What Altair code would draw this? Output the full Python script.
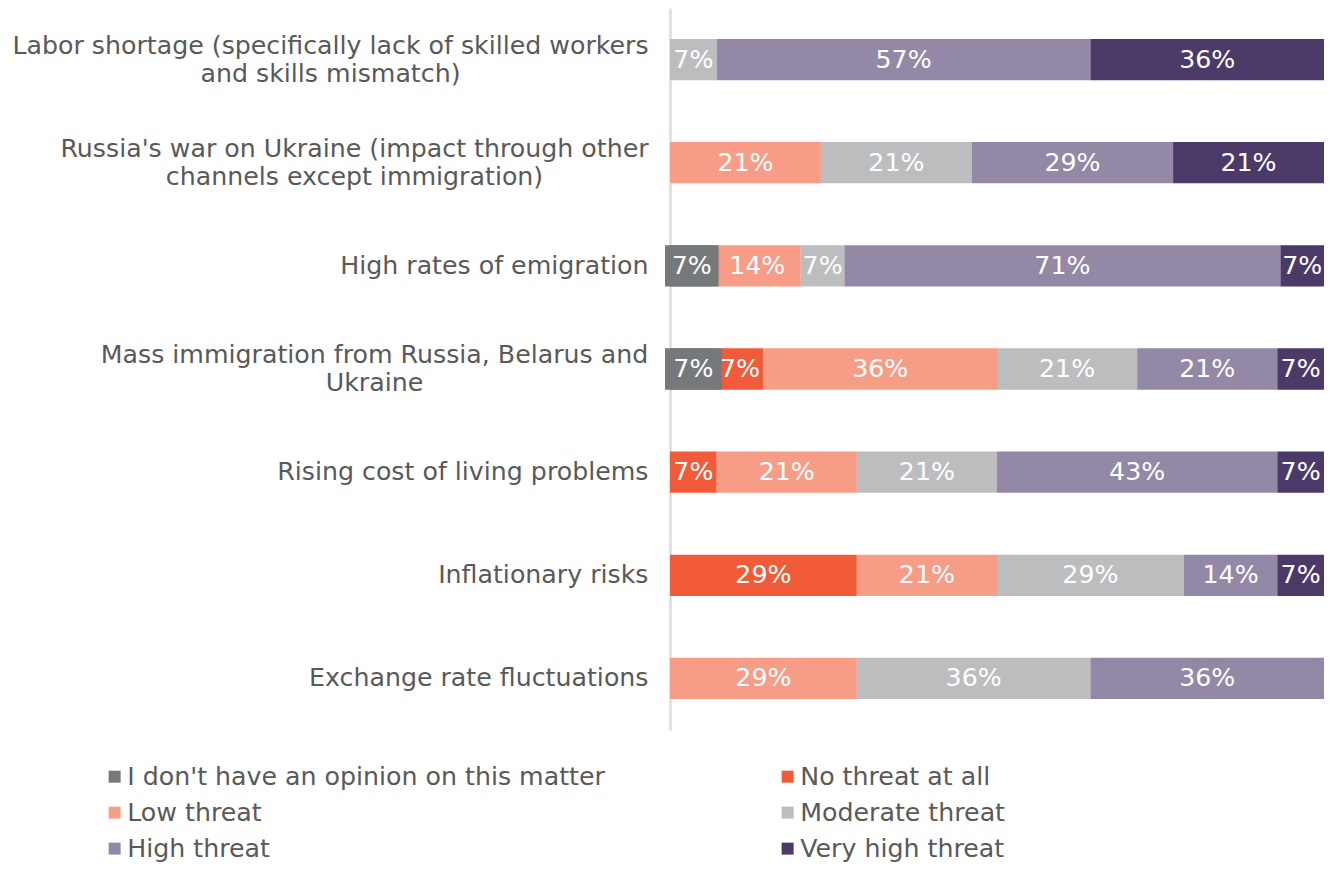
import altair as alt
import pandas as pd

categories = [
    "Labor shortage (specifically lack of skilled workers\nand skills mismatch)",
    "Russia's war on Ukraine (impact through other\nchannels except immigration)",
    "High rates of emigration",
    "Mass immigration from Russia, Belarus and\nUkraine",
    "Rising cost of living problems",
    "Inflationary risks",
    "Exchange rate fluctuations",
]

series = [
    "I don't have an opinion on this matter",
    "No threat at all",
    "Low threat",
    "Moderate threat",
    "High threat",
    "Very high threat",
]
colors = ["#76797B", "#F15B3A", "#F79D87", "#BCBDBF", "#9388A6", "#4B3A68"]

# respondent counts per category (top to bottom) for each answer
no_opinion = [0, 0, 1, 1, 0, 0, 0]
no_threat = [0, 0, 0, 1, 1, 4, 0]
low_threat = [0, 3, 2, 5, 3, 3, 4]
moderate_threat = [1, 3, 1, 3, 3, 4, 5]
high_threat = [8, 4, 10, 3, 6, 2, 5]
very_high_threat = [5, 3, 1, 1, 1, 1, 0]

# printed percentage labels
no_opinion_pct = [0, 0, 7, 7, 0, 0, 0]
no_threat_pct = [0, 0, 0, 7, 7, 29, 0]
low_threat_pct = [0, 21, 14, 36, 21, 21, 29]
moderate_threat_pct = [7, 21, 7, 21, 21, 29, 36]
high_threat_pct = [57, 29, 71, 21, 43, 14, 36]
very_high_threat_pct = [36, 21, 7, 7, 7, 7, 0]

counts = [no_opinion, no_threat, low_threat, moderate_threat, high_threat, very_high_threat]
pcts = [no_opinion_pct, no_threat_pct, low_threat_pct, moderate_threat_pct,
        high_threat_pct, very_high_threat_pct]

rows = []
for si, s in enumerate(series):
    for ci, c in enumerate(categories):
        if counts[si][ci] > 0:
            rows.append({"category": c, "series": s, "order": si,
                         "count": counts[si][ci], "label": f"{pcts[si][ci]}%"})
df = pd.DataFrame(rows)

FONT = "DejaVu Sans"
TXT = "#595959"
FS = 25.25

base = (
    alt.Chart(df)
    .transform_joinaggregate(total="sum(count)", groupby=["category"])
    .transform_calculate(frac="datum.count / datum.total")
    .transform_stack(stack="frac", groupby=["category"], as_=["x0", "x1"],
                     sort=[alt.SortField("order", "ascending")])
    .transform_calculate(mid="(datum.x0 + datum.x1) / 2")
)

multi = "indexof(datum.value, '\\n') >= 0"
y_axis = alt.Axis(
    title=None, ticks=False, grid=False, labelFontSize=FS, labelColor=TXT, labelFont=FONT,
    labelLimit=0, domainColor="#DDDDDD", domainWidth=2.5,
    labelExpr="split(datum.label, '\\n')", labelLineHeight=28,
    labelAlign={"condition": {"test": multi, "value": "center"}, "value": "right"},
    labelOffset={"condition": {"test": multi, "value": -14}, "value": 0},
    labelPadding={"condition": [
        {"test": "indexof(datum.value, 'Labor') === 0", "value": 340},
        {"test": "indexof(datum.value, 'Russia') === 0", "value": 316},
        {"test": "indexof(datum.value, 'Mass') === 0", "value": 296},
    ], "value": 22},
)
y = alt.Y("category:N", sort=categories,
          scale=alt.Scale(paddingInner=0.6, paddingOuter=0.3), axis=y_axis)
x = alt.X("x0:Q", scale=alt.Scale(domain=[0, 1], nice=False), axis=None)

bars = base.mark_bar().encode(
    x=x, x2="x1:Q", y=y,
    color=alt.Color("series:N", sort=series,
                    scale=alt.Scale(domain=series, range=colors),
                    legend=alt.Legend(
                        title=None, orient="none", legendX=-568, legendY=756,
                        direction="horizontal", columns=2, columnPadding=170,
                        rowPadding=10,
                        symbolType="square", symbolSize=144, symbolStrokeWidth=0,
                        labelFontSize=FS, labelColor=TXT, labelFont=FONT,
                        labelLimit=0, labelOffset=0, padding=0)),
)

boxes = base.transform_filter(alt.datum.order == 0).mark_bar(
    color=colors[0], xOffset=-5, x2Offset=5
).encode(x=x, x2="x1:Q", y=y)

text = base.mark_text(color="white", fontSize=FS, font=FONT,
                      align="center", baseline="middle").encode(
    x=alt.X("mid:Q", scale=alt.Scale(domain=[0, 1], nice=False), axis=None),
    y=y, text="label:N")

chart = (
    alt.layer(bars, boxes, text)
    .properties(width=654, height=722, autosize="none",
                padding={"left": 662, "top": 0, "right": 0, "bottom": 133})
    .configure(font=FONT)
    .configure_view(strokeWidth=0, stroke="transparent")
)

chart.save("out.html", embed_options={"renderer": "svg", "actions": False})
